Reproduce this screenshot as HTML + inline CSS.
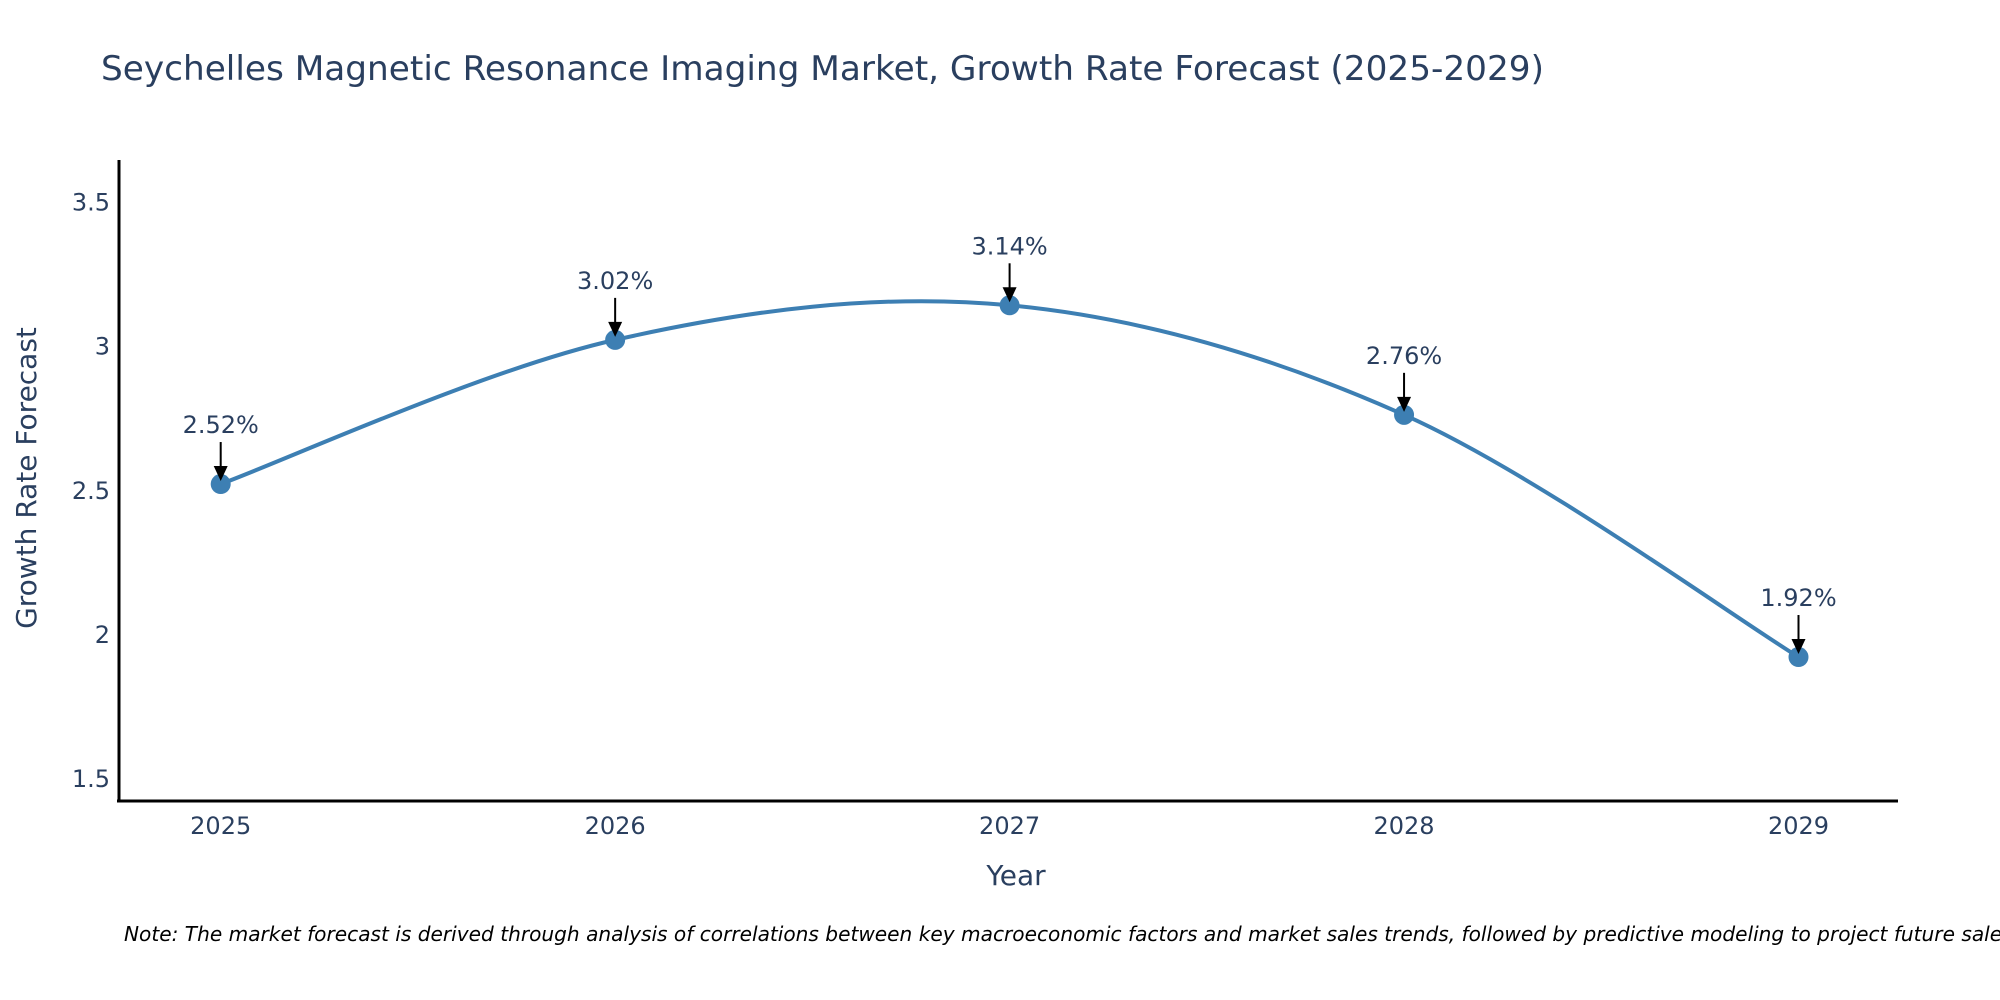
<!DOCTYPE html>
<html><head><meta charset="utf-8"><style>
html,body{margin:0;padding:0;background:#fff;width:2000px;height:1000px;overflow:hidden}
svg{display:block}
text{font-family:"DejaVu Sans","Liberation Sans",sans-serif;fill:#2a3f5f}
</style></head><body>
<svg id="chart" width="2000" height="1000" viewBox="0 0 2000 1000" xmlns="http://www.w3.org/2000/svg">
<defs><marker id="ah" viewBox="0 0 10 10" refX="5" refY="10" markerWidth="7" markerHeight="7" orient="auto-start-reverse" markerUnits="userSpaceOnUse"><path d="M0,0 L10,0 L5,10 Z" fill="#000" transform="scale(1)"/></marker></defs>
<text x="101" y="80" font-size="34" textLength="1443" lengthAdjust="spacingAndGlyphs">Seychelles Magnetic Resonance Imaging Market, Growth Rate Forecast (2025-2029)</text>
<g id="grid"></g>
<g id="series"></g>
<g id="annots"></g>
<line x1="119" y1="160" x2="119" y2="802" stroke="#000" stroke-width="3"/>
<line x1="117" y1="801" x2="1898" y2="801" stroke="#000" stroke-width="3"/>
<text x="1016" y="885" font-size="28" text-anchor="middle">Year</text>
<text x="0" y="0" font-size="28" text-anchor="middle" transform="translate(36,478) rotate(-90)">Growth Rate Forecast</text>
<text x="124" y="941" font-size="20" font-style="italic" fill="#000" style="fill:#000" textLength="1895" lengthAdjust="spacingAndGlyphs">Note: The market forecast is derived through analysis of correlations between key macroeconomic factors and market sales trends, followed by predictive modeling to project future sales.</text>
</svg>
<script>
const years = [2025, 2026, 2027, 2028, 2029];
const rates = [2.52, 3.02, 3.14, 2.76, 1.92];
const rateLabels = ["2.52%", "3.02%", "3.14%", "2.76%", "1.92%"];
const yTicks = [1.5, 2, 2.5, 3, 3.5];
const yTickLabels = ["1.5", "2", "2.5", "3", "3.5"];

const NS = "http://www.w3.org/2000/svg";
function xs(v){ return 220.7 + (v - 2025) * 394.45; }
function ys(v){ return 201.5 + (3.5 - v) * 288.3; }
function mk(tag, attrs, parent){ const e = document.createElementNS(NS, tag); for (const k in attrs) e.setAttribute(k, attrs[k]); parent.appendChild(e); return e; }

const grid = document.getElementById('grid');
yTicks.forEach((t, i) => {
  const el = mk('text', {x: 110, y: ys(t) + 9, 'font-size': 24, 'text-anchor': 'end'}, grid);
  
  
  el.textContent = yTickLabels[i];
});
years.forEach(yv => {
  const el = mk('text', {x: xs(yv), y: 834, 'font-size': 24, 'text-anchor': 'middle'}, grid);
  
  
  el.textContent = String(yv);
});

const pts = years.map((yv, i) => [xs(yv), ys(rates[i])]);
let d = `M${pts[0][0]},${pts[0][1]}`;
for (let i = 0; i < pts.length - 1; i++) {
  const p0 = pts[Math.max(0, i - 1)], p1 = pts[i], p2 = pts[i + 1], p3 = pts[Math.min(pts.length - 1, i + 2)];
  const c1 = [p1[0] + (p2[0] - p0[0]) / 6, p1[1] + (p2[1] - p0[1]) / 6];
  const c2 = [p2[0] - (p3[0] - p1[0]) / 6, p2[1] - (p3[1] - p1[1]) / 6];
  d += ` C${c1[0]},${c1[1]} ${c2[0]},${c2[1]} ${p2[0]},${p2[1]}`;
}
const series = document.getElementById('series');
const line = mk('path', {d: d, fill: 'none', stroke: '#3d7fb3', 'stroke-width': 4}, series);


pts.forEach(p => {
  const c = mk('circle', {cx: p[0], cy: p[1], r: 10, fill: '#3d7fb3'}, series);
  
  
});

const an = document.getElementById('annots');
pts.forEach((p, i) => {
  const g = mk('g', {}, an);
  
  
  mk('line', {x1: p[0], y1: p[1] - 42, x2: p[0], y2: p[1] - 16, stroke: '#000', 'stroke-width': 2}, g);
  mk('path', {d: `M${p[0]-7},${p[1]-18} L${p[0]+7},${p[1]-18} L${p[0]},${p[1]-3} Z`, fill: '#000'}, g);
  const t = mk('text', {x: p[0], y: p[1] - 51, 'font-size': 24, 'text-anchor': 'middle'}, g);
  t.textContent = rateLabels[i];
});
</script>
</body></html>
